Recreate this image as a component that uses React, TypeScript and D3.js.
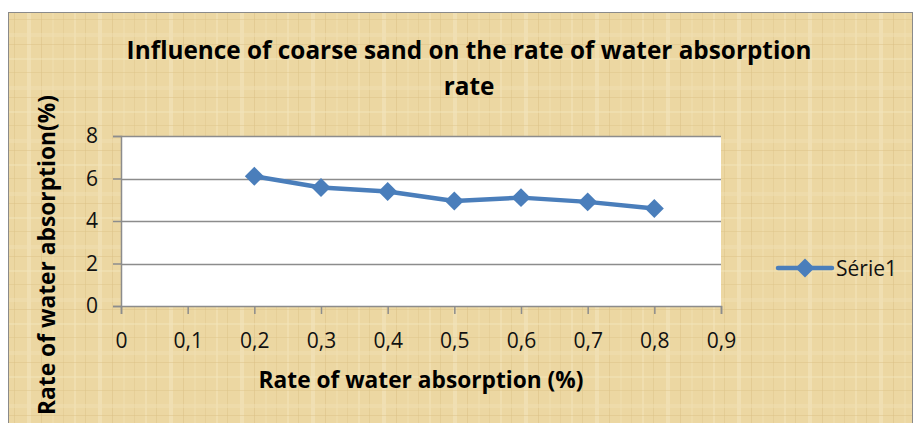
import React, { useEffect, useRef } from 'react';
import * as d3 from 'd3';

const xValues = [0.2, 0.3, 0.4, 0.5, 0.6, 0.7, 0.8];
const serie1 = [6.11, 5.58, 5.39, 4.94, 5.1, 4.9, 4.59];
const xTicks = [0, 0.1, 0.2, 0.3, 0.4, 0.5, 0.6, 0.7, 0.8, 0.9];
const yTicks = [0, 2, 4, 6, 8];
const seriesName = 'Série1';
const title = ['Influence of coarse sand on the rate of water absorption', 'rate'];
const xTitle = 'Rate of water absorption (%)';
const yTitle = 'Rate of water absorption(%)';

const W = 918;
const H = 423;
const BLUE = '#4a7ebb';
const GRID = '#8c8c8c';
const FONT = '"Open Sans", Lato, sans-serif';

// shrink/grow a text's font size so it spans about `target` px
function fitWidth(sel: d3.Selection<SVGTextElement, unknown, null, undefined>, target: number, size: number) {
  const node = sel.node();
  if (!node) return;
  const len = node.getComputedTextLength();
  if (len > 0) sel.attr('font-size', (size * target / len).toFixed(2));
}

export default function App() {
  const svgRef = useRef<SVGSVGElement>(null);

  useEffect(() => {
    if (!svgRef.current) return;
    const svg = d3.select(svgRef.current);
    svg.selectAll('*').remove();

    const plot = { left: 121, right: 721, top: 136, bottom: 306 };
    const x = d3.scaleLinear().domain([0, 0.9]).range([plot.left, plot.right]);
    const y = d3.scaleLinear().domain([0, 8]).range([plot.bottom, plot.top]);

    // papyrus-ish background
    const defs = svg.append('defs');
    const pat = defs.append('pattern')
      .attr('id', 'papyrus')
      .attr('patternUnits', 'userSpaceOnUse')
      .attr('width', 71).attr('height', 53);
    pat.append('rect').attr('width', 71).attr('height', 53).attr('fill', '#ecd7a2');
    [[3, 2, '#f3e5bb'], [14, 1, '#dcc387'], [27, 4, '#f4e8c2'], [41, 1, '#dac084'], [52, 2, '#f0dfb0'], [63, 1, '#e0c88e']].forEach(([px, w, c]) => {
      pat.append('rect').attr('x', px as number).attr('y', 0).attr('width', w as number).attr('height', 53)
        .attr('fill', c as string).attr('opacity', 0.5);
    });
    [[5, 2, '#f3e6bd'], [19, 1, '#dcc387'], [33, 4, '#f1e1b3'], [44, 1, '#d9bf82']].forEach(([py, h, c]) => {
      pat.append('rect').attr('x', 0).attr('y', py as number).attr('width', 71).attr('height', h as number)
        .attr('fill', c as string).attr('opacity', 0.45);
    });

    svg.append('rect').attr('width', W).attr('height', H).attr('fill', '#fff');
    svg.append('rect')
      .attr('x', 8.5).attr('y', 12.5).attr('width', 904).attr('height', 420)
      .attr('fill', 'url(#papyrus)')
      .attr('stroke', '#8a8a8a').attr('stroke-width', 1);

    // title
    const t1 = svg.append('text')
      .attr('x', 469).attr('y', 59)
      .attr('text-anchor', 'middle')
      .attr('font-family', FONT).attr('font-weight', 'bold').attr('font-size', 22)
      .text(title[0]);
    fitWidth(t1, 685, 22);
    svg.append('text')
      .attr('x', 469).attr('y', 95)
      .attr('text-anchor', 'middle')
      .attr('font-family', FONT).attr('font-weight', 'bold').attr('font-size', t1.attr('font-size'))
      .text(title[1]);

    // plot area
    svg.append('rect')
      .attr('x', plot.left).attr('y', plot.top)
      .attr('width', plot.right - plot.left).attr('height', plot.bottom - plot.top)
      .attr('fill', '#fff');

    // gridlines
    svg.append('g')
      .selectAll('line').data(yTicks.filter(d => d > 0)).enter().append('line')
      .attr('x1', plot.left).attr('x2', plot.right)
      .attr('y1', d => Math.round(y(d)) + 0.5).attr('y2', d => Math.round(y(d)) + 0.5)
      .attr('stroke', GRID).attr('stroke-width', 1.5);

    // y axis
    const yAxis = svg.append('g')
      .attr('transform', `translate(${plot.left},0)`)
      .call(d3.axisLeft(y).tickValues(yTicks).tickSize(8).tickPadding(15).tickFormat(d3.format('d')));
    yAxis.select('.domain').attr('stroke', GRID).attr('stroke-width', 1.5);
    yAxis.selectAll('.tick line').attr('stroke', GRID).attr('stroke-width', 1.5);
    yAxis.selectAll('.tick text').attr('font-family', FONT).attr('font-size', 21).attr('fill', '#111');

    // x axis
    const xAxis = svg.append('g')
      .attr('transform', `translate(0,${plot.bottom})`)
      .call(d3.axisBottom(x).tickValues(xTicks).tickSize(8).tickPadding(19)
        .tickFormat(d => (d === 0 ? '0' : d3.format('.1f')(d as number).replace('.', ','))));
    xAxis.select('.domain').attr('stroke', GRID).attr('stroke-width', 1.5);
    xAxis.selectAll('.tick line').attr('stroke', GRID).attr('stroke-width', 1.5);
    xAxis.selectAll('.tick text').attr('font-family', FONT).attr('font-size', 21).attr('fill', '#111');

    // axis titles
    const xt = svg.append('text')
      .attr('x', 421).attr('y', 388)
      .attr('text-anchor', 'middle')
      .attr('font-family', FONT).attr('font-weight', 'bold').attr('font-size', 19)
      .text(xTitle);
    fitWidth(xt, 325, 19);
    const yt = svg.append('text')
      .attr('transform', `translate(55,255) rotate(-90)`)
      .attr('text-anchor', 'middle')
      .attr('font-family', FONT).attr('font-weight', 'bold').attr('font-size', 19)
      .text(yTitle);
    fitWidth(yt, 320, 19);

    // series
    const pts = xValues.map((v, i) => [x(v), y(serie1[i])] as [number, number]);
    svg.append('path')
      .attr('d', d3.line()(pts))
      .attr('fill', 'none').attr('stroke', BLUE).attr('stroke-width', 4.5)
      .attr('stroke-linejoin', 'round');
    const diamond = d3.symbol().type(d3.symbolDiamond2).size(230);
    svg.append('g').selectAll('path').data(pts).enter().append('path')
      .attr('d', diamond())
      .attr('transform', d => `translate(${d[0]},${d[1]})`)
      .attr('fill', BLUE);

    // legend
    const leg = svg.append('g').attr('transform', 'translate(778,268)');
    leg.append('line').attr('x1', 0).attr('x2', 54).attr('y1', 0).attr('y2', 0)
      .attr('stroke', BLUE).attr('stroke-width', 4.5).attr('stroke-linecap', 'round');
    leg.append('path').attr('d', diamond()).attr('transform', 'translate(27,0)').attr('fill', BLUE);
    leg.append('text').attr('x', 58).attr('y', 8)
      .attr('font-family', FONT).attr('font-size', 21).attr('fill', '#111')
      .text(seriesName);
  }, []);

  return (
    <svg ref={svgRef} width={W} height={H}
      style={{ position: 'absolute', left: 0, top: 0, display: 'block' }} />
  );
}
